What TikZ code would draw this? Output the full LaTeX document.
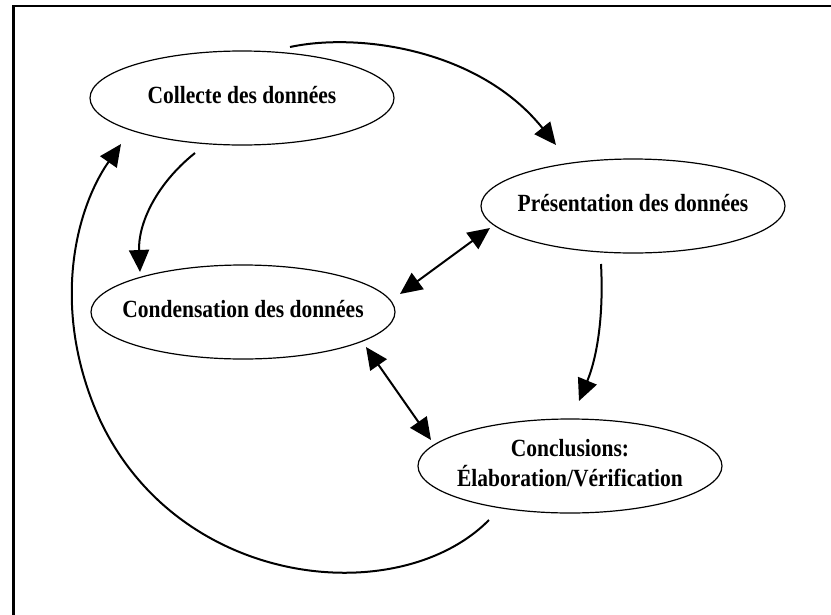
\documentclass[tikz,border=0pt]{standalone}
\usepackage{fontspec}
\setmainfont{Liberation Serif}
\usetikzlibrary{arrows.meta,shapes.geometric}
\newcommand{\stagetext}[1]{\makebox[0pt]{\scalebox{1}[1.15]{\begin{tabular}{@{}c@{}}#1\end{tabular}}}}
\tikzset{
  stage/.style={ellipse,draw,line width=1.2pt,minimum width=304pt,minimum height=94pt,inner sep=0pt,
    font=\fontsize{21.5}{24}\selectfont\bfseries},
  flow/.style={line width=2pt,-{Triangle[length=22pt,width=20pt]}},
  dflow/.style={line width=2pt,{Triangle[length=22pt,width=20pt]}-{Triangle[length=22pt,width=20pt]}},
  frameline/.style={line width=2.5pt}
}
\begin{document}
\begin{tikzpicture}[x=1pt,y=-1pt]
\useasboundingbox (0,0) rectangle (831,614);
\coordinate (fl) at (13.5,620);
\coordinate (ftl) at (13.5,6);
\coordinate (ftr) at (835,6);
\draw[frameline] (fl) -- (ftl) -- (ftr);

\node[stage] (col) at (242,98) {\stagetext{Collecte des données}};
\node[stage] (pre) at (633,206) {\stagetext{Présentation des données}};
\node[stage] (con) at (243,312) {\stagetext{Condensation des données}};
\node[stage] (clu) at (570,466) {\stagetext{Conclusions:\\Élaboration/Vérification}};

% endpoints
\coordinate (a1s) at (290,47);
\coordinate (a1e) at (556,145);
\coordinate (a2s) at (195,153);
\coordinate (a2e) at (140,272);
\coordinate (a3s) at (490,228);
\coordinate (a3e) at (400,294);
\coordinate (a4s) at (601,264);
\coordinate (a4e) at (579,401);
\coordinate (a5s) at (366,347);
\coordinate (a5e) at (431,440);
\coordinate (a6s) at (489,520);
\coordinate (a6m) at (100,420);
\coordinate (a6e) at (121,144);

\draw[flow] (a1s) .. controls (360,32) and (480,50) .. (a1e);
\draw[flow] (a2s) .. controls (155,185) and (138,225) .. (a2e);
\draw[dflow] (a3e) -- (a3s);
\draw[flow] (a4s) .. controls (604,320) and (596,360) .. (a4e);
\draw[dflow] (a5s) -- (a5e);
\draw[flow] (a6s) .. controls (400,610) and (180,590) .. (a6m) .. controls (50,310) and (75,210) .. (a6e);
\end{tikzpicture}
\end{document}
